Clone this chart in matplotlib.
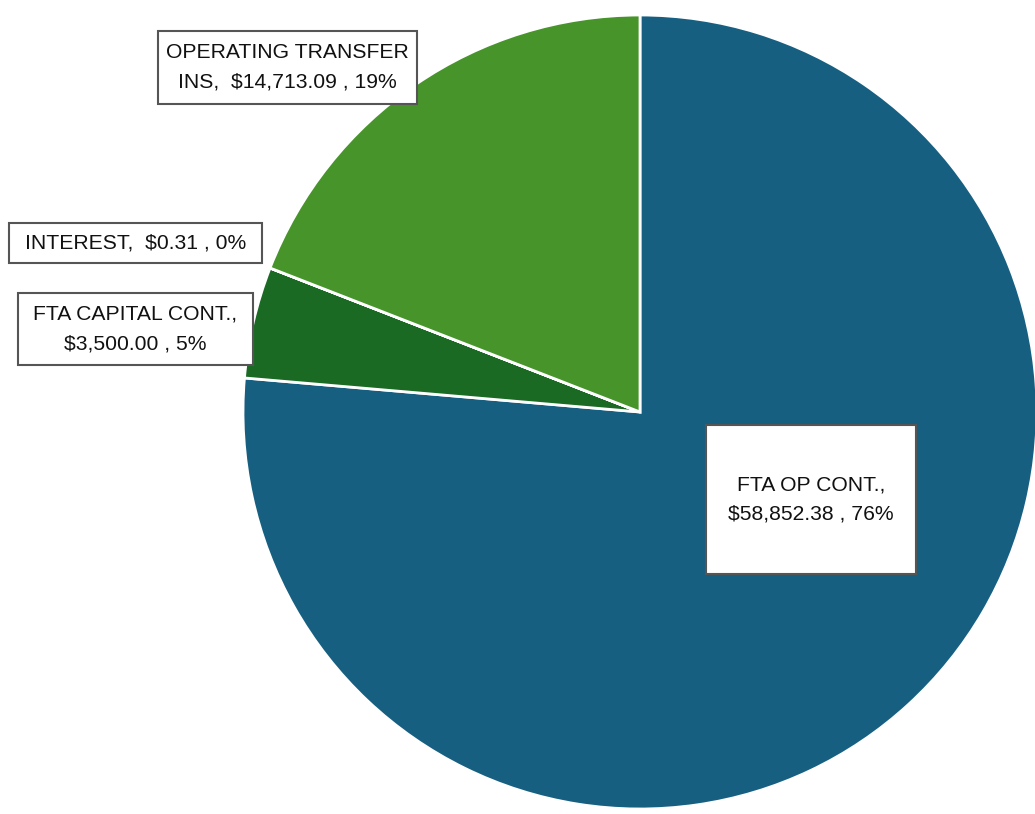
import matplotlib
matplotlib.use("Agg")
import matplotlib.pyplot as plt
from matplotlib import font_manager
from matplotlib.patches import Rectangle

categories = ["FTA OP CONT.", "FTA CAPITAL CONT.", "INTEREST", "OPERATING TRANSFER INS"]
values = [58852.38, 3500.00, 0.31, 14713.09]
colors = ["#175f81", "#1b6a24", "#1b6a24", "#46942a"]

names = set(f.name for f in font_manager.fontManager.ttflist)
fam = ["Liberation Sans Narrow", "DejaVu Sans"] if "Liberation Sans Narrow" in names else ["Liberation Sans", "DejaVu Sans"]
plt.rcParams['font.family'] = fam

W, H = 1035, 814
fig = plt.figure(figsize=(W / 100, H / 100), dpi=100)
ax = fig.add_axes([0, 0, 1, 1])

cx, cy, r = 640, H - 412, 397
ax.pie(values, colors=colors, startangle=90, counterclock=False,
       center=(cx, cy), radius=r, frame=True,
       wedgeprops=dict(edgecolor="white", linewidth=2))
ax.set_xlim(0, W)
ax.set_ylim(0, H)
ax.set_aspect('equal')
ax.axis('off')

total = sum(values)
def pct(i):
    return round(values[i] / total * 100)

texts = [
    f"{categories[0]},\n${values[0]:,.2f} , {pct(0)}%",
    f"{categories[1]},\n${values[1]:,.2f} , {pct(1)}%",
    f"{categories[2]},  ${values[2]:,.2f} , {pct(2)}%",
    f"OPERATING TRANSFER\nINS,  ${values[3]:,.2f} , {pct(3)}%",
]
# label boxes (left, top, right, bottom) in pixel layout
boxes = [(706, 425, 916, 574), (18, 293, 253, 365), (9, 223, 262, 263), (158, 31, 417, 104)]
for txt, (x0, y0, x1, y1) in zip(texts, boxes):
    ax.add_patch(Rectangle((x0, H - y1), x1 - x0, y1 - y0, facecolor="white",
                           edgecolor="#555555", linewidth=1.5, zorder=5))
    ax.text((x0 + x1) / 2, H - (y0 + y1) / 2, txt, ha='center', va='center',
            fontsize=15.2, linespacing=1.7, color="#111111", zorder=6)

fig.savefig("out.png", dpi=100, facecolor="white")
